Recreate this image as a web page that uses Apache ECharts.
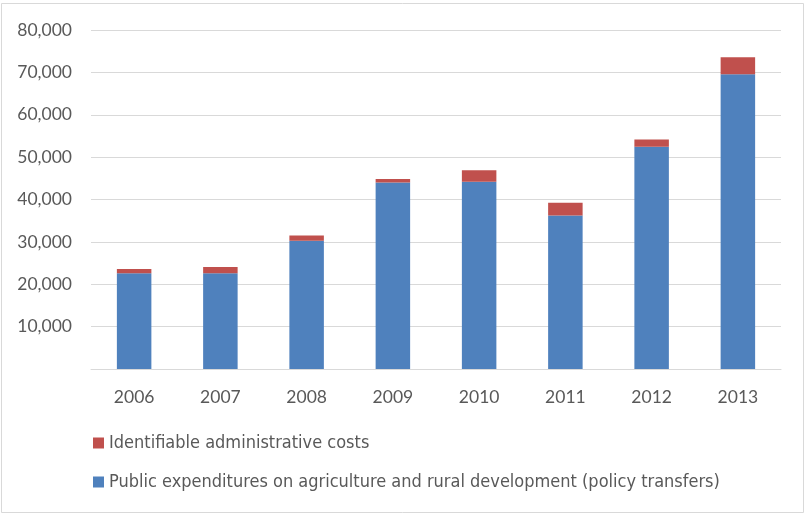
<!DOCTYPE html>
<html>
<head>
<meta charset="utf-8">
<style>
  html, body { margin: 0; padding: 0; background: #fff; }
  #chart { width: 805px; height: 516px; }
</style>
<script src="https://cdn.jsdelivr.net/npm/echarts@6/dist/echarts.min.js"></script>
</head>
<body>
<div id="chart"></div>
<script>
// Years on the category axis
const years = ['2006', '2007', '2008', '2009', '2010', '2011', '2012', '2013'];
// Public expenditures on agriculture and rural development (policy transfers)
const policyTransfers = [22570, 22570, 30260, 44030, 44170, 36250, 52430, 69580];
// Identifiable administrative costs (stacked on top)
const adminCosts = [1010, 1490, 1270, 780, 2760, 2970, 1740, 4000];
// Value-axis ticks
const yTicks = [0, 10000, 20000, 30000, 40000, 50000, 60000, 70000, 80000];

const axisFont = 'Lato, "Liberation Sans", sans-serif';
const legendFont = '"Liberation Sans Narrow", "DejaVu Sans Condensed", sans-serif';
const textColor = '#595959';

const chart = echarts.init(document.getElementById('chart'), null, { renderer: 'canvas' });
chart.setOption({
  animation: false,
  backgroundColor: '#ffffff',
  graphic: [{
    type: 'rect',
    shape: { x: 1.5, y: 3.5, width: 802, height: 509 },
    style: { fill: 'none', stroke: '#d9d9d9', lineWidth: 1 },
    silent: true
  }],
  grid: { left: 91, right: 24, top: 30, bottom: 147, containLabel: false },
  legend: {
    orient: 'vertical',
    left: 93,
    top: 434,
    padding: 0,
    itemWidth: 11,
    itemHeight: 11,
    itemGap: 21,
    icon: 'rect',
    textStyle: { fontFamily: legendFont, fontSize: 18, color: textColor },
    data: [
      { name: 'Identifiable administrative costs' },
      { name: 'Public expenditures on agriculture and rural development (policy transfers)' }
    ]
  },
  xAxis: {
    type: 'category',
    data: years,
    axisLine: { show: true, lineStyle: { color: '#d9d9d9', width: 1 } },
    axisTick: { show: false },
    axisLabel: { fontFamily: axisFont, fontSize: 17.5, color: textColor, margin: 19 }
  },
  yAxis: {
    type: 'value',
    min: yTicks[0],
    max: yTicks[yTicks.length - 1],
    interval: yTicks[1] - yTicks[0],
    axisLine: { show: false },
    axisTick: { show: false },
    splitLine: { lineStyle: { color: '#d9d9d9', width: 1 } },
    axisLabel: {
      fontFamily: axisFont, fontSize: 17.5, color: textColor, margin: 19,
      formatter: v => v === 0 ? '' : v.toLocaleString('en-US')
    }
  },
  series: [
    {
      name: 'Public expenditures on agriculture and rural development (policy transfers)',
      type: 'bar',
      stack: 'total',
      barWidth: '40%',
      data: policyTransfers,
      itemStyle: { color: '#4f81bd' }
    },
    {
      name: 'Identifiable administrative costs',
      type: 'bar',
      stack: 'total',
      barWidth: '40%',
      data: adminCosts,
      itemStyle: { color: '#c0504d' }
    }
  ]
});
</script>
</body>
</html>
